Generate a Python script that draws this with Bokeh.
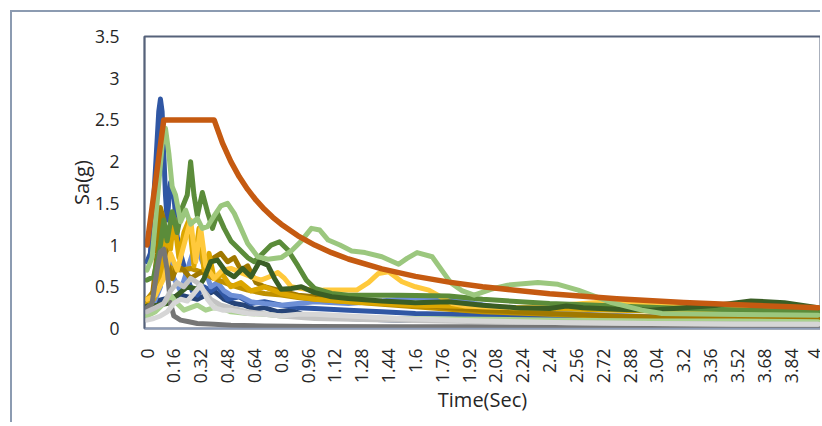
import math
from bokeh.plotting import figure
from bokeh.models import Range1d, FixedTicker
from bokeh.embed import file_html
from bokeh.resources import INLINE

# ---------------- data ----------------
x_ticks = [0, 0.16, 0.32, 0.48, 0.64, 0.8, 0.96, 1.12, 1.28, 1.44, 1.6, 1.76, 1.92,
           2.08, 2.24, 2.4, 2.56, 2.72, 2.88, 3.04, 3.2, 3.36, 3.52, 3.68, 3.84, 4]
x_tick_labels = ["0", "0.16", "0.32", "0.48", "0.64", "0.8", "0.96", "1.12", "1.28", "1.44",
                 "1.6", "1.76", "1.92", "2.08", "2.24", "2.4", "2.56", "2.72", "2.88", "3.04",
                 "3.2", "3.36", "3.52", "3.68", "3.84", "4"]
y_ticks = [0, 0.5, 1, 1.5, 2, 2.5, 3, 3.5]
y_tick_labels = ["0", "0.5", "1", "1.5", "2", "2.5", "3", "3.5"]

design_T = [0, 0.1, 0.4, 0.45, 0.5, 0.55, 0.6, 0.65, 0.7, 0.75, 0.8, 0.9, 1.0, 1.1, 1.2, 1.4,
            1.6, 1.8, 2.0, 2.4, 2.8, 3.2, 3.6, 4.0]
design_Sa = [1.0, 2.5, 2.5, 2.222, 2.0, 1.818, 1.667, 1.538, 1.429, 1.333, 1.25, 1.111, 1.0,
             0.909, 0.833, 0.714, 0.625, 0.556, 0.5, 0.417, 0.357, 0.3125, 0.278, 0.25]

navy_T = [0, 0.1, 0.2, 0.3, 0.4, 0.46, 0.52, 0.58, 0.64, 0.7, 0.78, 0.86, 0.95, 1.05, 1.2,
          1.5, 2.0, 2.5, 3.0, 4.0]
navy_Sa = [0.3, 0.35, 0.4, 0.35, 0.45, 0.35, 0.3, 0.28, 0.23, 0.25, 0.2, 0.22, 0.15, 0.12,
           0.12, 0.1, 0.1, 0.1, 0.09, 0.08]

blue_T = [0, 0.02, 0.05, 0.07, 0.08, 0.09, 0.11, 0.12, 0.14, 0.16, 0.18, 0.2, 0.22, 0.24,
          0.27, 0.3, 0.34, 0.38, 0.42, 0.48, 0.55, 0.62, 0.7, 0.8, 0.9, 1.0, 1.2, 1.4, 1.6,
          1.8, 2.0, 2.4, 2.8, 3.2, 3.6, 4.0]
blue_Sa = [0.8, 0.9, 1.9, 2.6, 2.75, 2.6, 1.6, 1.3, 1.75, 1.6, 1.1, 0.9, 0.75, 0.6, 0.45,
           0.4, 0.5, 0.45, 0.5, 0.35, 0.38, 0.3, 0.32, 0.28, 0.25, 0.24, 0.22, 0.2, 0.18,
           0.17, 0.16, 0.14, 0.13, 0.12, 0.12, 0.12]

lblue_T = [0, 0.04, 0.08, 0.1, 0.13, 0.16, 0.2, 0.24, 0.28, 0.31, 0.34, 0.38, 0.42, 0.46,
           0.5, 0.56, 0.62, 0.7, 0.8, 0.9, 1.0, 1.2, 1.4, 1.6, 1.8, 1.95, 2.2, 2.6, 3.0,
           3.5, 4.0]
lblue_Sa = [0.25, 0.3, 0.5, 1.2, 0.9, 0.6, 0.45, 0.7, 0.95, 0.9, 0.75, 0.5, 0.55, 0.45,
            0.4, 0.38, 0.32, 0.3, 0.28, 0.3, 0.32, 0.3, 0.33, 0.37, 0.36, 0.3, 0.22, 0.17,
            0.14, 0.12, 0.1]

gold4_T = [0, 0.04, 0.08, 0.11, 0.15, 0.2, 0.26, 0.32, 0.4, 0.5, 0.6, 0.7, 0.8, 0.9, 1.0,
           1.2, 1.4, 1.6, 1.8, 2.0, 2.4, 2.8, 3.2, 3.6, 4.0]
gold4_Sa = [0.35, 0.45, 0.7, 0.76, 0.72, 0.7, 0.72, 0.68, 0.6, 0.52, 0.46, 0.42, 0.4, 0.37,
            0.35, 0.32, 0.29, 0.26, 0.23, 0.2, 0.17, 0.14, 0.12, 0.1, 0.09]

gold3_T = [0, 0.03, 0.06, 0.08, 0.1, 0.12, 0.15, 0.18, 0.22, 0.26, 0.3, 0.35, 0.4, 0.44,
           0.48, 0.52, 0.56, 0.6, 0.65, 0.7, 0.8, 0.9, 1.0, 1.2, 1.4, 1.6, 1.8, 2.0, 2.4,
           2.8, 3.2, 3.6, 4.0]
gold3_Sa = [0.3, 0.35, 0.9, 1.45, 1.3, 0.8, 0.6, 0.75, 0.7, 0.6, 0.65, 0.7, 0.85, 0.9, 0.8,
            0.85, 0.7, 0.75, 0.55, 0.5, 0.45, 0.4, 0.38, 0.35, 0.32, 0.29, 0.25, 0.22, 0.18,
            0.15, 0.13, 0.12, 0.11]

gold2_T = [0, 0.04, 0.08, 0.11, 0.14, 0.16, 0.19, 0.22, 0.25, 0.28, 0.31, 0.34, 0.37, 0.4,
           0.45, 0.5, 0.56, 0.62, 0.7, 0.8, 0.9, 1.0, 1.2, 1.4, 1.6, 1.8, 2.0, 2.4, 2.8,
           3.2, 3.6, 4.0]
gold2_Sa = [0.3, 0.35, 0.6, 1.1, 0.95, 1.33, 0.85, 1.15, 1.3, 0.75, 1.2, 0.7, 0.9, 0.6,
            0.65, 0.5, 0.55, 0.45, 0.5, 0.42, 0.38, 0.35, 0.32, 0.3, 0.28, 0.27, 0.26,
            0.24, 0.22, 0.2, 0.19, 0.18]

yellow_T = [0, 0.05, 0.1, 0.14, 0.18, 0.22, 0.26, 0.29, 0.32, 0.35, 0.4, 0.45, 0.5, 0.56,
            0.62, 0.68, 0.73, 0.78, 0.82, 0.86, 0.95, 1.05, 1.15, 1.25, 1.32, 1.38, 1.44,
            1.52, 1.6, 1.68, 1.75, 1.82, 1.9, 2.0, 2.2, 2.4, 2.6, 2.75, 2.9, 3.1, 3.4, 3.7,
            4.0]
yellow_Sa = [0.35, 0.4, 0.6, 0.9, 0.7, 1.0, 1.3, 0.8, 1.2, 0.75, 0.6, 0.7, 0.72, 0.67,
             0.62, 0.58, 0.62, 0.67, 0.6, 0.5, 0.47, 0.46, 0.46, 0.46, 0.55, 0.66, 0.68,
             0.56, 0.5, 0.46, 0.38, 0.3, 0.27, 0.26, 0.25, 0.27, 0.3, 0.32, 0.3, 0.27,
             0.24, 0.22, 0.2]

mgreen_T = [0, 0.04, 0.08, 0.1, 0.12, 0.15, 0.18, 0.21, 0.24, 0.26, 0.28, 0.3, 0.33, 0.36,
            0.39, 0.42, 0.46, 0.5, 0.55, 0.6, 0.64, 0.68, 0.74, 0.79, 0.84, 0.9, 0.95, 1.0,
            1.1, 1.2, 1.5, 1.8, 2.0, 2.4, 2.8, 3.2, 3.6, 4.0]
mgreen_Sa = [0.58, 0.62, 1.0, 1.3, 1.05, 1.4, 1.15, 1.45, 1.6, 2.0, 1.6, 1.35, 1.63, 1.4,
             1.2, 1.38, 1.2, 1.05, 0.95, 0.85, 0.8, 0.88, 1.0, 1.04, 0.94, 0.75, 0.58,
             0.48, 0.42, 0.4, 0.4, 0.39, 0.35, 0.3, 0.27, 0.24, 0.22, 0.2]

dgreen_T = [0, 0.06, 0.12, 0.18, 0.24, 0.3, 0.34, 0.38, 0.42, 0.47, 0.52, 0.57, 0.62, 0.67,
            0.72, 0.76, 0.8, 0.86, 0.92, 1.0, 1.1, 1.2, 1.4, 1.6, 1.8, 2.0, 2.2, 2.4, 2.5,
            2.6, 2.8, 3.0, 3.2, 3.4, 3.6, 3.8, 4.0]
dgreen_Sa = [0.27, 0.28, 0.3, 0.4, 0.5, 0.47, 0.6, 0.8, 0.82, 0.68, 0.62, 0.72, 0.62, 0.8,
             0.76, 0.6, 0.47, 0.48, 0.5, 0.43, 0.38, 0.36, 0.33, 0.31, 0.32, 0.28, 0.25,
             0.24, 0.27, 0.25, 0.23, 0.22, 0.25, 0.28, 0.33, 0.31, 0.25]

grey_T = [0, 0.03, 0.06, 0.08, 0.1, 0.12, 0.14, 0.16, 0.2, 0.25, 0.3, 0.4, 0.5, 0.7, 1.0,
          1.5, 2.0, 3.0, 4.0]
grey_Sa = [0.25, 0.3, 0.7, 0.92, 0.95, 0.7, 0.3, 0.15, 0.1, 0.08, 0.06, 0.05, 0.04, 0.03,
           0.025, 0.02, 0.02, 0.015, 0.01]

lgreen2_T = [0, 0.05, 0.1, 0.14, 0.18, 0.22, 0.26, 0.3, 0.35, 0.4, 0.45, 0.5, 0.6, 0.7,
             0.8, 1.0, 1.2, 1.5, 2.0, 2.5, 3.0, 3.5, 4.0]
lgreen2_Sa = [0.15, 0.2, 0.3, 0.4, 0.3, 0.22, 0.25, 0.28, 0.22, 0.25, 0.24, 0.2, 0.18,
              0.17, 0.15, 0.14, 0.13, 0.12, 0.11, 0.1, 0.09, 0.09, 0.08]

lgrey3_T = [0, 0.05, 0.1, 0.14, 0.18, 0.22, 0.26, 0.3, 0.34, 0.38, 0.44, 0.5, 0.6, 0.8,
            1.0, 1.5, 2.0, 3.0, 4.0]
lgrey3_Sa = [0.2, 0.25, 0.3, 0.45, 0.55, 0.5, 0.6, 0.55, 0.45, 0.35, 0.28, 0.25, 0.2, 0.15,
             0.12, 0.1, 0.08, 0.06, 0.05]

lgrey2_T = [0, 0.04, 0.08, 0.12, 0.16, 0.2, 0.24, 0.28, 0.32, 0.36, 0.4, 0.45, 0.5, 0.6,
            0.7, 0.8, 0.9, 1.0, 1.2, 1.5, 2.0, 2.5, 3.0, 3.5, 4.0]
lgrey2_Sa = [0.1, 0.12, 0.15, 0.2, 0.3, 0.35, 0.33, 0.42, 0.52, 0.35, 0.25, 0.22, 0.22,
             0.18, 0.17, 0.15, 0.17, 0.17, 0.15, 0.12, 0.09, 0.07, 0.06, 0.05, 0.05]

lgreen1_T = [0, 0.03, 0.06, 0.09, 0.11, 0.13, 0.15, 0.17, 0.2, 0.23, 0.26, 0.3, 0.33, 0.36,
             0.4, 0.44, 0.48, 0.52, 0.56, 0.6, 0.66, 0.72, 0.8, 0.86, 0.92, 0.98, 1.03,
             1.08, 1.15, 1.22, 1.3, 1.4, 1.5, 1.55, 1.61, 1.7, 1.81, 1.88, 1.95, 2.05,
             2.15, 2.33, 2.45, 2.57, 2.77, 2.95, 3.07, 3.4, 3.7, 4.0]
lgreen1_Sa = [0.7, 0.85, 1.5, 2.2, 2.4, 2.1, 1.7, 1.6, 1.28, 1.42, 1.25, 1.32, 1.2, 1.22,
              1.35, 1.47, 1.5, 1.38, 1.2, 1.02, 0.86, 0.83, 0.85, 0.93, 1.05, 1.2, 1.18,
              1.06, 1.0, 0.93, 0.91, 0.86, 0.77, 0.84, 0.91, 0.86, 0.55, 0.45, 0.4, 0.47,
              0.52, 0.55, 0.53, 0.46, 0.31, 0.22, 0.18, 0.17, 0.165, 0.16]

series = [
    (navy_T, navy_Sa, "#264478"),
    (blue_T, blue_Sa, "#3057A4"),
    (lblue_T, lblue_Sa, "#6D8FD6"),
    (gold4_T, gold4_Sa, "#BF9000"),
    (gold3_T, gold3_Sa, "#A07800"),
    (gold2_T, gold2_Sa, "#DCA600"),
    (yellow_T, yellow_Sa, "#FFC93C"),
    (mgreen_T, mgreen_Sa, "#5B8C3A"),
    (dgreen_T, dgreen_Sa, "#3A5E25"),
    (grey_T, grey_Sa, "#767676"),
    (lgreen2_T, lgreen2_Sa, "#A9D18E"),
    (lgrey3_T, lgrey3_Sa, "#C3C3C3"),
    (lgrey2_T, lgrey2_Sa, "#D6D6D6"),
    (lgreen1_T, lgreen1_Sa, "#9BC77E"),
    (design_T, design_Sa, "#C55A11"),
]

# ---------------- figure ----------------
FONT = "Open Sans"
TXT = "#262626"

p = figure(width=810, height=412, x_range=Range1d(-0.015, 4.015), y_range=Range1d(0, 3.5),
           output_backend="svg", toolbar_location=None,
           min_border_left=132, min_border_right=2, min_border_top=24, min_border_bottom=96)
p.styles = {"border-left": "2px solid #8C9BB1", "border-top": "2px solid #8C9BB1",
            "margin-left": "10px", "margin-top": "10px"}
p.outline_line_color = "#56627A"
p.outline_line_width = 2
p.grid.visible = False
p.background_fill_color = "white"
p.border_fill_color = "white"

for T, Sa, col in series:
    w = 5.5 if col == "#C55A11" else 5
    p.line(T, Sa, line_color=col, line_width=w, line_join="round", line_cap="round")

# x axis
xa = p.xaxis[0]
xa.ticker = FixedTicker(ticks=x_ticks)
xa.major_label_overrides = {t: l for t, l in zip(x_ticks, x_tick_labels)}
xa.major_label_orientation = math.pi / 2
xa.major_tick_line_color = None
xa.minor_tick_line_color = None
xa.major_label_standoff = 14
xa.axis_line_color = "#8E9DB8"
xa.axis_line_width = 1.5
xa.major_label_text_font = FONT
xa.major_label_text_font_size = "17.5px"
xa.major_label_text_color = TXT
xa.axis_label = "Time(Sec)"
xa.axis_label_text_font = FONT
xa.axis_label_text_font_size = "20px"
xa.axis_label_text_font_style = "normal"
xa.axis_label_text_color = TXT
xa.axis_label_standoff = 0

# y axis
ya = p.yaxis[0]
ya.ticker = FixedTicker(ticks=y_ticks)
ya.major_label_overrides = {t: l for t, l in zip(y_ticks, y_tick_labels)}
ya.major_tick_line_color = None
ya.minor_tick_line_color = None
ya.major_label_standoff = 19
ya.axis_line_color = "#56627A"
ya.axis_line_width = 1.5
ya.major_label_text_font = FONT
ya.major_label_text_font_size = "17.5px"
ya.major_label_text_color = TXT
ya.axis_label = "Sa(g)"
ya.axis_label_text_font = FONT
ya.axis_label_text_font_size = "20px"
ya.axis_label_text_font_style = "normal"
ya.axis_label_text_color = TXT
ya.axis_label_standoff = -3

open("out.html", "w").write(file_html(p, INLINE))
